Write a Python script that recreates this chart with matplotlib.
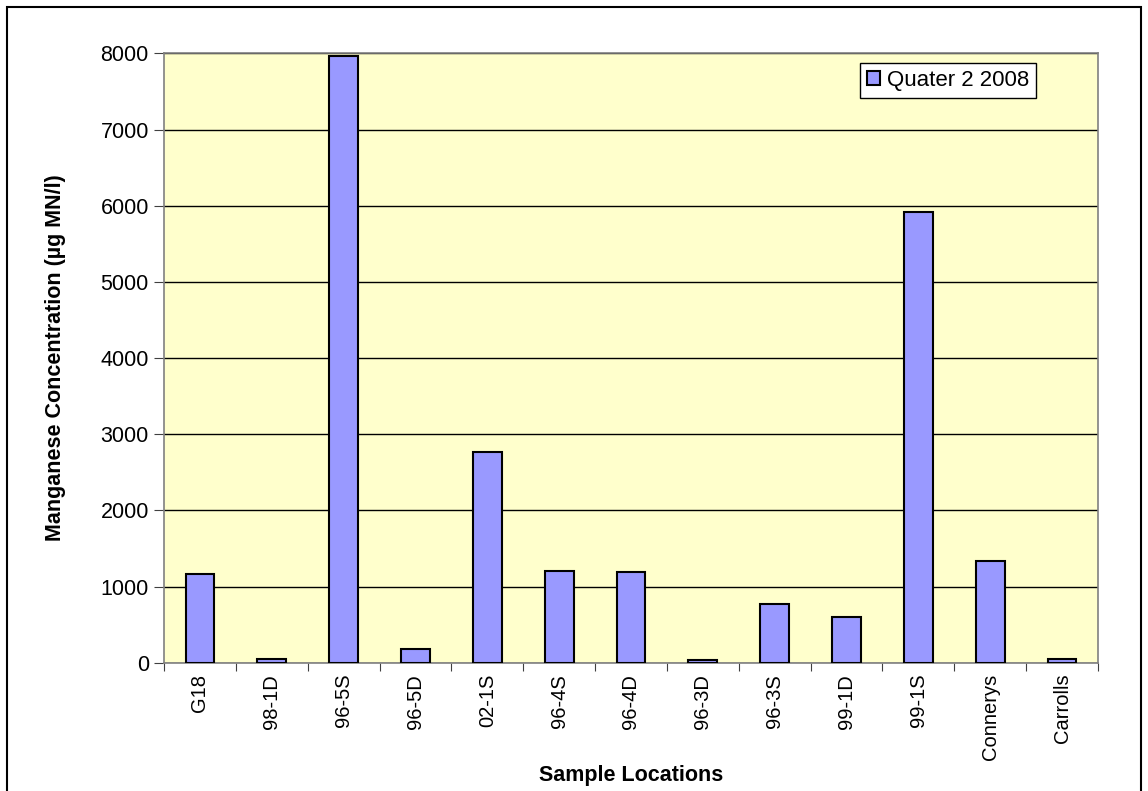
import matplotlib
matplotlib.use('Agg')
import matplotlib.pyplot as plt
import numpy as np
from matplotlib.patches import Rectangle

plt.rcParams['font.family'] = ['Liberation Sans', 'DejaVu Sans']

locations = ['G18', '98-1D', '96-5S', '96-5D', '02-1S', '96-4S', '96-4D',
             '96-3D', '96-3S', '99-1D', '99-1S', 'Connerys', 'Carrolls']
manganese = [1165, 53, 7967, 180, 2763, 1208, 1187, 31, 771, 596, 5919, 1335, 53]
series_name = 'Quater 2 2008'
yticks = [0, 1000, 2000, 3000, 4000, 5000, 6000, 7000, 8000]

fig = plt.figure(figsize=(11.48, 7.91), dpi=100)
# outer chart frame
fig.patches.append(Rectangle((7 / 1148, -0.05), 1134 / 1148, 1.05 - 7 / 791,
                             transform=fig.transFigure, fill=False,
                             edgecolor='black', linewidth=1.5))

ax = fig.add_axes([0.1429, 0.1622, 0.8135, 0.7702])
ax.set_facecolor('#FFFFCC')

x = np.arange(len(locations))
ax.bar(x, manganese, width=0.4, color='#9999FF', edgecolor='black',
       linewidth=1.5, label=series_name, zorder=3)

ax.set_xlim(-0.5, len(locations) - 0.5)
ax.set_ylim(0, 8000)
ax.set_yticks(yticks)
ax.set_yticklabels([str(v) for v in yticks], fontsize=15.5)
ax.yaxis.grid(True, color='black', linewidth=1, zorder=1)
ax.set_axisbelow(True)

# category labels centred, tick marks between categories
ax.set_xticks(np.arange(len(locations) + 1) - 0.5)
ax.set_xticklabels([])
ax.set_xticks(x, minor=True)
ax.set_xticklabels(locations, minor=True, rotation=90, fontsize=14.5)
ax.tick_params(axis='x', which='minor', length=0, pad=8)
ax.tick_params(axis='x', which='major', length=6, color='#404040')
ax.tick_params(axis='y', length=7, color='#404040', pad=4)

for s in ax.spines.values():
    s.set_color('#808080')
    s.set_linewidth(1.2)

ax.set_xlabel('Sample Locations', fontsize=15.5, fontweight='bold')
ax.xaxis.set_label_coords(0.5, -0.168)
ax.set_ylabel('Manganese Concentration (µg MN/l)', fontsize=15.5,
              fontweight='bold')
ax.yaxis.set_label_coords(-0.105, 0.5)

leg = ax.legend(loc='upper right', bbox_to_anchor=(0.9336, 0.984), fontsize=16,
                frameon=True, fancybox=False, edgecolor='black',
                handlelength=0.6, handleheight=0.6, handletextpad=0.3,
                borderpad=0.3, borderaxespad=0)
leg.get_frame().set_linewidth(1)
leg.get_frame().set_facecolor('white')
leg.get_frame().set_alpha(1)

fig.savefig('out.png', dpi=100)
